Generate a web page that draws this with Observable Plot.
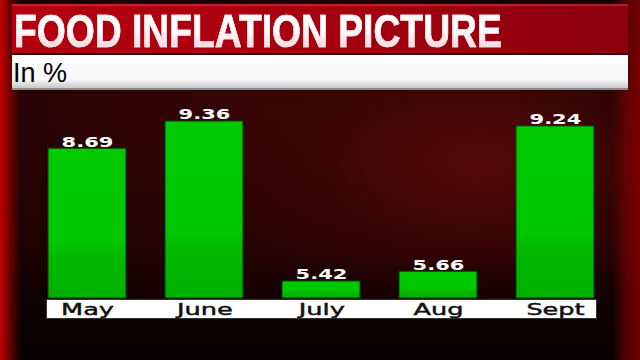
<!DOCTYPE html>
<html>
<head>
<meta charset="utf-8">
<script src="https://cdn.jsdelivr.net/npm/d3@7"></script>
<script src="https://cdn.jsdelivr.net/npm/@observablehq/plot@0.6"></script>
<style>
  html, body { margin: 0; padding: 0; background: #140202; }
  #wrap {
    position: relative; width: 640px; height: 360px; overflow: hidden;
    background:
      linear-gradient(to right, rgba(205,0,0,0.95) 0px, rgba(150,0,0,0.7) 9px, rgba(60,0,0,0) 20px, rgba(60,0,0,0) 612px, rgba(140,0,0,0.55) 626px, rgba(150,0,0,0.7) 640px),
      linear-gradient(to bottom, rgba(0,0,0,0.5) 0px, rgba(0,0,0,0) 6px, rgba(0,0,0,0) 70%, rgba(0,0,0,0.55) 92%, rgba(0,0,0,0.7) 100%),
      radial-gradient(ellipse 45% 45% at 75% 45%, #560909 0%, rgba(70,6,6,0.5) 55%, rgba(40,2,2,0) 100%),
      radial-gradient(ellipse 70% 60% at 40% 30%, #360505 0%, #260303 60%, #180101 100%);
  }
  #banner {
    position: absolute; left: 12px; top: 4px; width: 616px; height: 49px;
    background: linear-gradient(to right, #b3000f 0%, #a5000f 55%, #8a000c 100%);
    box-shadow: inset 0 2px 0 rgba(255,90,90,0.35);
  }
  #title {
    position: absolute; left: 14px; top: 8px; white-space: nowrap;
    font-family: "Liberation Sans", Arial, sans-serif; font-weight: bold;
    font-size: 46px; line-height: 46px;
    transform: scaleX(0.81); transform-origin: 0 0;
    background: linear-gradient(to bottom, #ffffff 0%, #ffffff 45%, #f3c9d0 100%);
    -webkit-background-clip: text; background-clip: text; color: transparent;
    -webkit-text-stroke: 0.6px #fff0f2;
  }
  #subbar {
    position: absolute; left: 12px; top: 55px; width: 616px; height: 35px; box-sizing: border-box;
    background: linear-gradient(to bottom, #ffffff 0%, #f6f6f6 75%, #c8c8c8 100%);
    border-bottom: 2px solid #8a8a8a;
  }
  #subtitle {
    position: absolute; left: 13px; top: 60px; white-space: nowrap;
    font-family: "Liberation Sans", Arial, sans-serif; font-size: 27px; line-height: 27px; color: #000;
  }
  #strip {
    position: absolute; left: 46px; top: 299px; width: 551px; height: 20px; box-sizing: border-box;
    background: #ffffff; border: 1px solid #333;
  }
  #chart { position: absolute; left: 0; top: 92px; }
  #chart svg { display: block; overflow: visible; }
</style>
</head>
<body>
<div id="wrap">
  <div id="banner"></div>
  <div id="title">FOOD INFLATION PICTURE</div>
  <div id="subbar"></div>
  <div id="subtitle">In %</div>
  <div id="strip"></div>
  <div id="chart"></div>
</div>
<script>
const months = ["May", "June", "July", "Aug", "Sept"];
const values = [8.69, 9.36, 5.42, 5.66, 9.24];
const yBase = 5;
const yTop = 10;

const data = months.map((m, i) => ({month: m, value: values[i]}));

const svg = Plot.plot({
  width: 640,
  height: 268,
  marginTop: 3,
  marginBottom: 62,
  marginLeft: 46,
  marginRight: 43,
  x: {domain: months, paddingInner: 0.33, paddingOuter: 0},
  y: {domain: [yBase, yTop], axis: null},
  style: {background: "transparent", color: "#111", overflow: "visible"},
  marks: [
    Plot.barY(data, {x: "month", y1: () => yBase, y2: "value", fill: "url(#barGrad)", stroke: "#0a3a0a", strokeWidth: 1}),
    Plot.text(data, {x: "month", y: "value", text: d => d.value.toFixed(2), lineAnchor: "bottom", dy: -2,
      fill: "white", fontSize: 14, fontWeight: "bold", fontFamily: "DejaVu Sans"}),
    Plot.axisX({tickSize: 0, tickPadding: 5.5, fontSize: 16, fontFamily: "DejaVu Sans", fill: "#111", label: null})
  ]
});

const defs = d3.select(svg).insert("defs", ":first-child");
const g = defs.append("linearGradient").attr("id", "barGrad")
  .attr("x1", 0).attr("y1", 0).attr("x2", 0).attr("y2", 1);
[[0, "#00c900"], [0.62, "#00c700"], [0.72, "#00b900"], [1, "#00b000"]].forEach(([o, c]) =>
  g.append("stop").attr("offset", o).attr("stop-color", c));

document.getElementById("chart").appendChild(svg);

// widen the lettering horizontally (the broadcast font is an extended face)
svg.querySelectorAll("text").forEach(t => {
  const isWhite = getComputedStyle(t).fill.replace(/\s/g, "") === "rgb(255,255,255)";
  const k = isWhite ? 1.5 : 1.6;
  const b = t.getBBox();
  const cx = b.x + b.width / 2;
  const tr = t.getAttribute("transform") || "";
  t.setAttribute("transform", `${tr} translate(${cx},0) scale(${k},1) translate(${-cx},0)`.trim());
  if (!isWhite) { t.setAttribute("stroke", "#111"); t.setAttribute("stroke-width", "0.45"); }
});
</script>
</body>
</html>
